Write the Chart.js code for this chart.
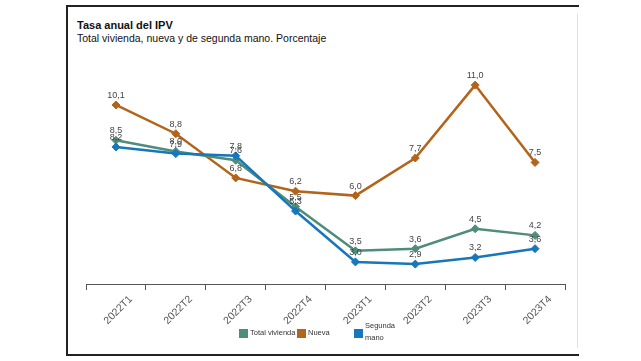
<!DOCTYPE html>
<html>
<head>
<meta charset="utf-8">
<script src="https://cdn.jsdelivr.net/npm/chart.js@4"></script>
<style>
  html, body { margin: 0; padding: 0; background: #fff; }
  body { width: 641px; height: 361px; position: relative; overflow: hidden; font-family: "Liberation Sans", Arial, sans-serif; }
  #frame {
    position: absolute; left: 66px; top: 5px; width: 511px; height: 347px;
    border-left: 2px solid #222; border-top: 2px solid #222; border-bottom: 2px solid #222;
  }
  #rline { position: absolute; left: 577px; top: 14px; width: 1px; height: 334px; background: #e9dfca; }
  #title { position: absolute; left: 77px; top: 19px; font-size: 11px; font-weight: bold; color: #111; }
  #subtitle { position: absolute; left: 77px; top: 32px; font-size: 10.5px; color: #111; }
  #chartWrap { position: absolute; left: 0; top: 0; width: 641px; height: 361px; }
  .leg { position: absolute; font-size: 7.5px; color: #333; line-height: 12px; white-space: nowrap; }
  .sw { position: absolute; width: 9px; height: 9px; top: 329px; }
</style>
</head>
<body>
<div id="frame"></div>
<div id="rline"></div>
<div id="title">Tasa anual del IPV</div>
<div id="subtitle">Total vivienda, nueva y de segunda mano. Porcentaje</div>
<div id="chartWrap"><canvas id="ipvChart" width="641" height="361"></canvas></div>
<div id="legend"></div>
<script>
const categories = ["2022T1", "2022T2", "2022T3", "2022T4", "2023T1", "2023T2", "2023T3", "2023T4"];
const totalVivienda = [8.5, 8.0, 7.6, 5.5, 3.5, 3.6, 4.5, 4.2];
const nueva = [10.1, 8.8, 6.8, 6.2, 6.0, 7.7, 11.0, 7.5];
const segundaMano = [8.2, 7.9, 7.8, 5.3, 3.0, 2.9, 3.2, 3.6];
const seriesNames = ["Total vivienda", "Nueva", "Segunda mano"];
const seriesColors = ["#4e8c7b", "#b3641a", "#1876ba"];

// labels above each point, with decimal comma
const pointLabels = {
  id: "pointLabels",
  afterDatasetsDraw(chart) {
    const ctx = chart.ctx;
    ctx.save();
    ctx.font = "9px 'Liberation Sans', Arial, sans-serif";
    ctx.fillStyle = "#444";
    ctx.textAlign = "center";
    ctx.textBaseline = "bottom";
    chart.data.datasets.forEach((ds, i) => {
      const meta = chart.getDatasetMeta(i);
      meta.data.forEach((pt, j) => {
        ctx.fillText(ds.data[j].toFixed(1).replace(".", ","), pt.x, pt.y - 5);
      });
    });
    ctx.restore();
  },
};

function makeDataset(label, data, color, order) {
  return {
    label: label,
    data: data,
    borderColor: color,
    backgroundColor: color,
    borderWidth: 2.5,
    pointStyle: "rectRot",
    pointRadius: 4,
    pointBorderWidth: 1,
    tension: 0,
    order: order,
  };
}

new Chart(document.getElementById("ipvChart"), {
  type: "line",
  data: {
    labels: categories,
    datasets: [
      makeDataset(seriesNames[0], totalVivienda, seriesColors[0], 1),
      makeDataset(seriesNames[1], nueva, seriesColors[1], 2),
      makeDataset(seriesNames[2], segundaMano, seriesColors[2], 0),
    ],
  },
  options: {
    responsive: false,
    animation: false,
    layout: { padding: { left: 86, right: 76, top: 63, bottom: 0 } },
    scales: {
      y: { display: false, min: 2, max: 12 },
      x: {
        offset: true,
        afterFit(scale) { scale.height = 77; },
        grid: {
          offset: true,
          drawOnChartArea: false,
          drawTicks: true,
          tickLength: 6,
          color: "#555",
        },
        border: { display: true, color: "#555", width: 1 },
        ticks: {
          minRotation: 45,
          maxRotation: 45,
          labelOffset: 15,
          color: "#555",
          font: { size: 10.5, family: "'Liberation Sans', Arial, sans-serif" },
        },
      },
    },
    plugins: {
      legend: { display: false },
      tooltip: { enabled: false },
    },
  },
  plugins: [pointLabels],
});

// legend drawn as html, "Segunda mano" wraps like the original
const legend = document.getElementById("legend");
const legendPos = [
  { box: 239, text: 250, top: 327, width: 50 },
  { box: 297, text: 308, top: 327, width: 30 },
  { box: 354, text: 365, top: 320, width: 30 },
];
seriesNames.forEach((name, i) => {
  const p = legendPos[i];
  const text = i === 2 ? name.replace(" ", "<br>") : name;
  legend.innerHTML +=
    `<div class="sw" style="left:${p.box}px;background:${seriesColors[i]}"></div>` +
    `<div class="leg" style="left:${p.text}px;top:${p.top}px;width:${p.width}px">${text}</div>`;
});
</script>
</body>
</html>
